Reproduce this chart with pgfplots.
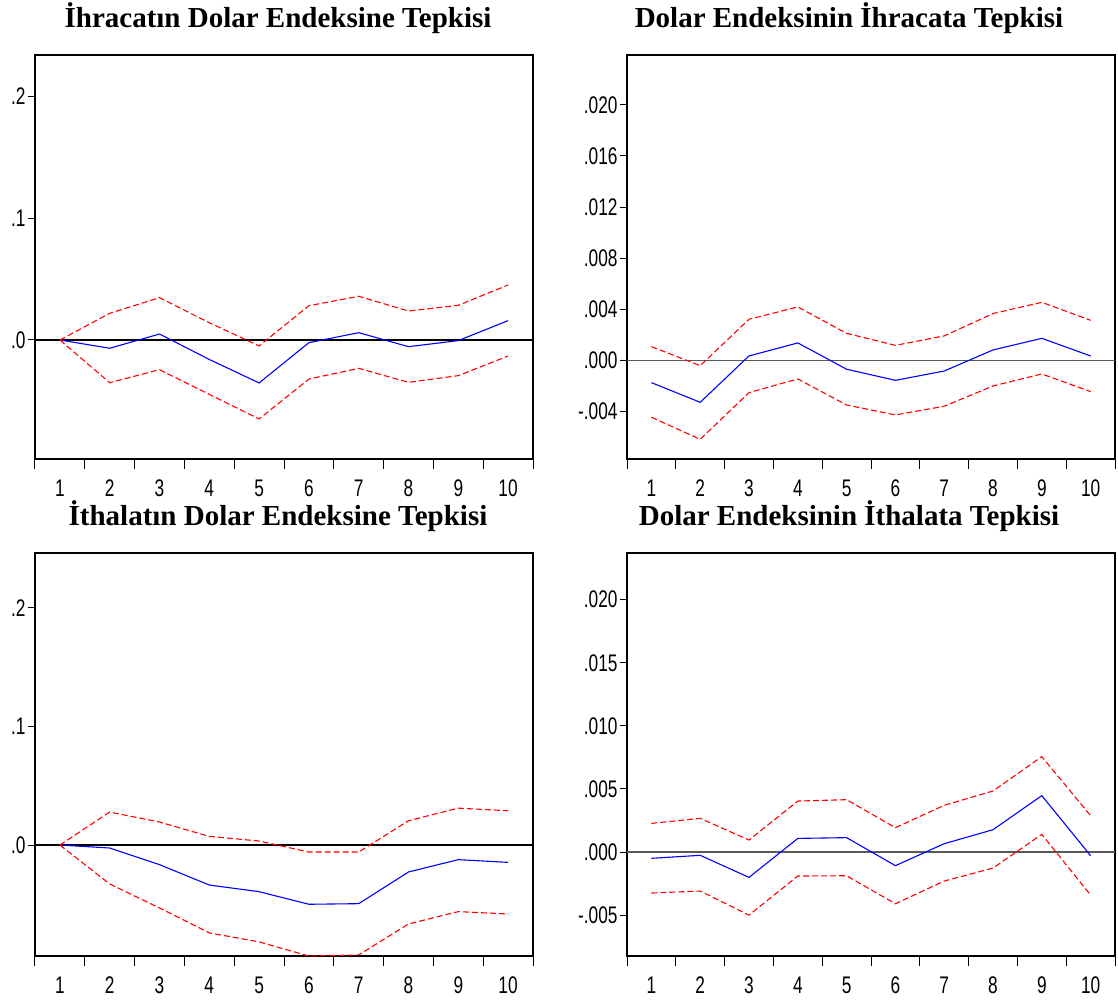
\documentclass[border=0pt]{standalone}
\usepackage{fontspec}
\setmainfont{Liberation Serif}
\newfontfamily\ticksf[FakeStretch=0.72]{Liberation Sans}
\usepackage{pgfplots}
\usepackage{pgfplotstable}
\pgfplotsset{compat=1.18}

% h = period, irf = response, lo/hi = +-2 S.E. bands
\pgfplotstableread{
h irf lo hi
1 0 0 0
2 -0.0068 -0.0351 0.0219
3 0.0049 -0.0244 0.0348
4 -0.0160 -0.0447 0.0142
5 -0.0353 -0.0649 -0.0049
6 -0.0022 -0.0321 0.0282
7 0.0060 -0.0233 0.0359
8 -0.0055 -0.0348 0.0238
9 -0.0005 -0.0293 0.0285
10 0.0159 -0.0132 0.0452
}\ihrdol

\pgfplotstableread{
h irf lo hi
1 -0.00175 -0.00446 0.00107
2 -0.00329 -0.00619 -0.00042
3 0.00034 -0.00253 0.00321
4 0.00136 -0.00146 0.00418
5 -0.00070 -0.00350 0.00211
6 -0.00157 -0.00428 0.00117
7 -0.00084 -0.00360 0.00191
8 0.00081 -0.00201 0.00366
9 0.00172 -0.00107 0.00454
10 0.00034 -0.00245 0.00313
}\dolihr

\pgfplotstableread{
h irf lo hi
1 0 0 0
2 -0.0025 -0.0328 0.0278
3 -0.0165 -0.0530 0.0194
4 -0.0337 -0.0740 0.0073
5 -0.0393 -0.0816 0.0034
6 -0.0499 -0.0935 -0.0059
7 -0.0494 -0.0926 -0.0059
8 -0.0227 -0.0665 0.0205
9 -0.0123 -0.0561 0.0311
10 -0.0146 -0.0581 0.0289
}\ithdol

\pgfplotstableread{
h irf lo hi
1 -0.00050 -0.00325 0.00227
2 -0.00026 -0.00309 0.00267
3 -0.00201 -0.00500 0.00095
4 0.00108 -0.00190 0.00404
5 0.00114 -0.00188 0.00415
6 -0.00108 -0.00410 0.00193
7 0.00066 -0.00230 0.00370
8 0.00177 -0.00127 0.00484
9 0.00447 0.00140 0.00756
10 -0.00029 -0.00341 0.00288
}\dolith

\pgfplotsset{
  irf/.style={
    scale only axis, anchor=south west,
    xmin=0.5, xmax=10.5,
    xtick={1,...,10},
    xticklabels={1,2,3,4,5,6,7,8,9,10},
    minor xtick={0.5,1.5,...,10.5},
    xtick pos=bottom, ytick pos=left,
    tick align=outside,
    major tick length=7pt, minor tick length=10pt,
    major x tick style={draw=none},
    minor x tick style={black, line width=1pt},
    y tick style={black, line width=1pt},
    axis line style={line width=1.6pt, black},
    scaled y ticks=false,
    ticklabel style={font=\ticksf\fontsize{24}{24}\selectfont},
    xticklabel style={yshift=-10pt},
    yticklabel style={xshift=1pt},
    title style={font=\bfseries\fontsize{29}{29}\selectfont,
      at={(0.5,1)}, anchor=base, yshift=21pt},
  },
  resp/.style={blue, line width=1.1pt},
  band/.style={red, line width=1.1pt, dash pattern=on 6pt off 3pt},
}

\begin{document}
\begin{tikzpicture}
\useasboundingbox (0,0) rectangle (1118pt,999pt);

\begin{axis}[irf, at={(35pt,540pt)}, width=498pt, height=404pt,
  ymin=-0.0978, ymax=0.2342,
  ytick={0,0.1,0.2}, yticklabels={.0,.1,.2},
  title={İhracatın Dolar Endeksine Tepkisi},
  title style={xshift=-6pt}]
\addplot[black, line width=1.2pt, forget plot] coordinates {(0.5,0) (10.5,0)};
\addplot[resp] table[x=h, y=irf] {\ihrdol};
\addplot[band] table[x=h, y=hi] {\ihrdol};
\addplot[band] table[x=h, y=lo] {\ihrdol};
\end{axis}

\begin{axis}[irf, at={(627pt,540pt)}, width=488pt, height=404pt,
  ymin=-0.00773, ymax=0.02391,
  ytick={-0.004,0,0.004,0.008,0.012,0.016,0.02},
  yticklabels={-.004,.000,.004,.008,.012,.016,.020},
  title={Dolar Endeksinin İhracata Tepkisi},
  title style={xshift=-22pt}]
\addplot[gray!70!black, line width=1.2pt, forget plot] coordinates {(0.5,0) (10.5,0)};
\addplot[resp] table[x=h, y=irf] {\dolihr};
\addplot[band] table[x=h, y=hi] {\dolihr};
\addplot[band] table[x=h, y=lo] {\dolihr};
\end{axis}

\begin{axis}[irf, at={(35pt,43pt)}, width=498pt, height=403pt,
  ymin=-0.0935, ymax=0.2461,
  ytick={0,0.1,0.2}, yticklabels={.0,.1,.2},
  title={İthalatın Dolar Endeksine Tepkisi},
  title style={xshift=-6pt}]
\addplot[black, line width=1.2pt, forget plot] coordinates {(0.5,0) (10.5,0)};
\addplot[resp] table[x=h, y=irf] {\ithdol};
\addplot[band] table[x=h, y=hi] {\ithdol};
\addplot[band] table[x=h, y=lo] {\ithdol};
\end{axis}

\begin{axis}[irf, at={(627pt,43pt)}, width=488pt, height=403pt,
  ymin=-0.00824, ymax=0.0237,
  ytick={-0.005,0,0.005,0.01,0.015,0.02},
  yticklabels={-.005,.000,.005,.010,.015,.020},
  title={Dolar Endeksinin İthalata Tepkisi},
  title style={xshift=-22pt}]
\addplot[gray!70!black, line width=1.2pt, forget plot] coordinates {(0.5,0) (10.5,0)};
\addplot[resp] table[x=h, y=irf] {\dolith};
\addplot[band] table[x=h, y=hi] {\dolith};
\addplot[band] table[x=h, y=lo] {\dolith};
\end{axis}
\end{tikzpicture}
\end{document}
